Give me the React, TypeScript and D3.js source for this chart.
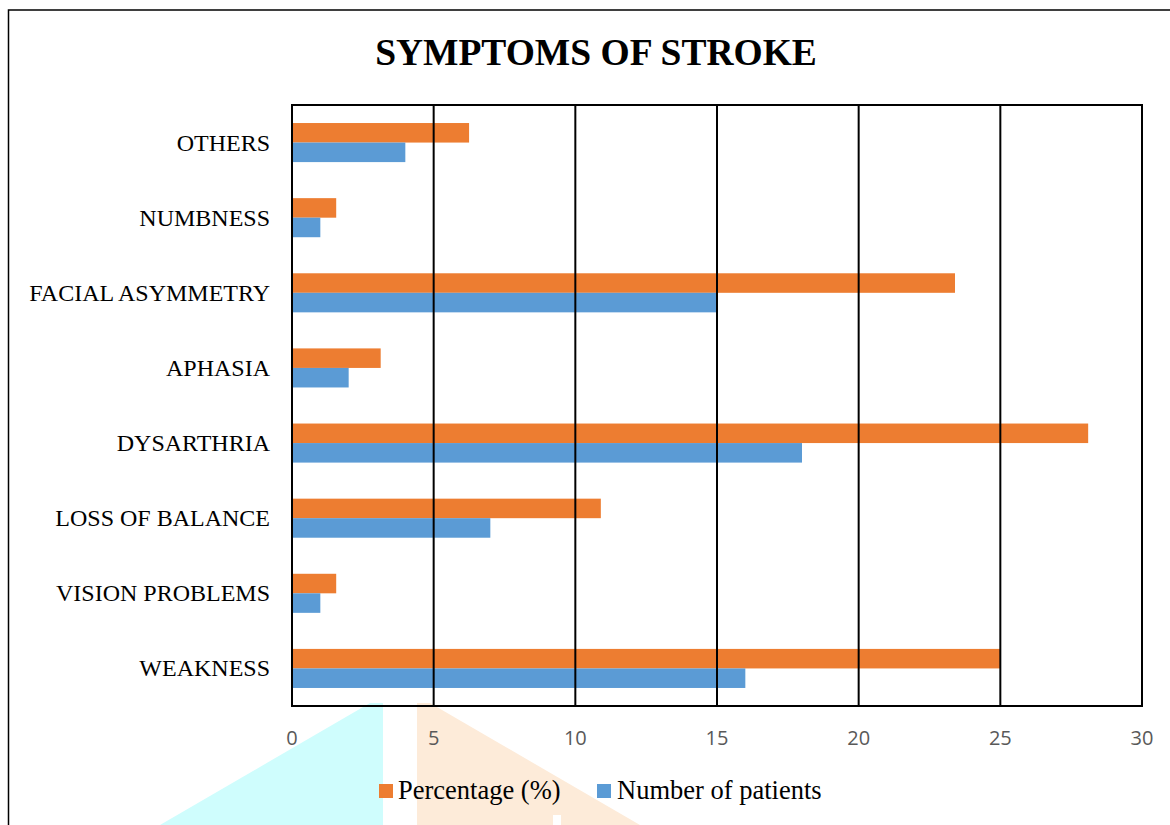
import React from "react";
import * as d3 from "d3";

const categories = [
  "OTHERS",
  "NUMBNESS",
  "FACIAL ASYMMETRY",
  "APHASIA",
  "DYSARTHRIA",
  "LOSS OF BALANCE",
  "VISION PROBLEMS",
  "WEAKNESS",
];
const percentage = [6.25, 1.56, 23.4, 3.13, 28.1, 10.9, 1.56, 25];
const patients = [4, 1, 15, 2, 18, 7, 1, 16];
const xTicks = [0, 5, 10, 15, 20, 25, 30];
const seriesNames = ["Percentage (%)", "Number of patients"];
const colors = ["#ED7D31", "#5B9BD5"];

export default function App() {
  const W = 1170;
  const H = 825;
  const left = 292;
  const right = 1142;
  const top = 105;
  const bottom = 706;

  const x = d3.scaleLinear().domain([0, 30]).range([left, right]);
  const y = d3
    .scaleBand<string>()
    .domain(categories)
    .range([top, bottom])
    .paddingInner(0.48)
    .paddingOuter(0.24);
  const sub = d3
    .scaleBand<string>()
    .domain(["p", "n"])
    .range([0, y.bandwidth()]);

  const serif = "'Liberation Serif', 'Times New Roman', serif";
  const sans = "'Open Sans', 'Liberation Sans', sans-serif";

  return (
    <svg
      width={W}
      height={H}
      style={{ position: "absolute", left: 0, top: 0, background: "#fff" }}
    >
      <rect x={0} y={0} width={W} height={H} fill="#fff" />
      {/* watermark shapes */}
      <polygon points="160,825 370,703 383,703 383,825" fill="#cffdfd" />
      <polygon points="417,703 430,703 640,825 417,825" fill="#fdebd9" />
      <rect x={553} y={815} width={8} height={10} fill="#fff" />

      {/* outer frame */}
      <rect
        x={8.5}
        y={10}
        width={W + 20}
        height={H + 20}
        fill="none"
        stroke="#000"
        strokeWidth={1.5}
      />

      <text
        x={596}
        y={65}
        textAnchor="middle"
        fontFamily={serif}
        fontWeight="bold"
        fontSize={37.5}
        fill="#000"
      >
        SYMPTOMS OF STROKE
      </text>

      {/* bars */}
      {categories.map((c, i) => (
        <g key={c}>
          <rect
            x={x(0)}
            y={(y(c) as number) + (sub("p") as number)}
            width={x(percentage[i]) - x(0)}
            height={sub.bandwidth()}
            fill={colors[0]}
          />
          <rect
            x={x(0)}
            y={(y(c) as number) + (sub("n") as number)}
            width={x(patients[i]) - x(0)}
            height={sub.bandwidth()}
            fill={colors[1]}
          />
        </g>
      ))}

      {/* gridlines */}
      {xTicks.slice(1, -1).map((t) => (
        <line
          key={t}
          x1={x(t)}
          x2={x(t)}
          y1={top}
          y2={bottom}
          stroke="#000"
          strokeWidth={2}
        />
      ))}

      {/* plot border */}
      <rect
        x={left}
        y={top}
        width={right - left}
        height={bottom - top}
        fill="none"
        stroke="#000"
        strokeWidth={2}
      />

      {/* category labels */}
      {categories.map((c) => (
        <text
          key={c}
          x={270}
          y={(y(c) as number) + y.bandwidth() / 2 + 8}
          textAnchor="end"
          fontFamily={serif}
          fontSize={24}
          fill="#000"
        >
          {c}
        </text>
      ))}

      {/* x tick labels */}
      {xTicks.map((t) => (
        <text
          key={t}
          x={x(t)}
          y={745}
          textAnchor="middle"
          fontFamily={sans}
          fontSize={20}
          fill="#595959"
        >
          {t}
        </text>
      ))}

      {/* legend */}
      <rect x={379} y={784} width={14} height={14} fill={colors[0]} />
      <text x={398} y={799} fontFamily={serif} fontSize={26.5} fill="#000">
        {seriesNames[0]}
      </text>
      <rect x={597} y={784} width={14} height={14} fill={colors[1]} />
      <text x={617} y={799} fontFamily={serif} fontSize={26.5} fill="#000">
        {seriesNames[1]}
      </text>
    </svg>
  );
}
